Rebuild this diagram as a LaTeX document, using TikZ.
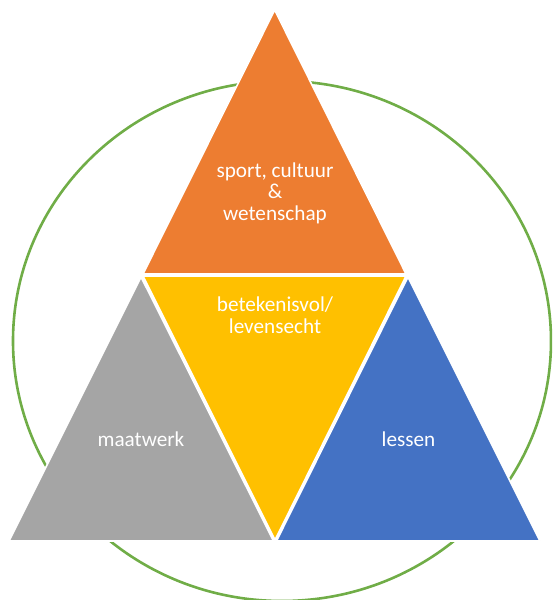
\documentclass[tikz,border=0pt]{standalone}
\usepackage{fontspec}
\setmainfont{Carlito}
\definecolor{cgreen}{HTML}{70AD47}
\definecolor{corange}{HTML}{ED7D31}
\definecolor{cgray}{HTML}{A5A5A5}
\definecolor{cyellow}{HTML}{FFC000}
\definecolor{cblue}{HTML}{4472C4}
\begin{document}
\begin{tikzpicture}[x=1pt,y=-1pt,
  tri/.style={draw=white,line width=1.6pt,line join=miter},
  lbl/.style={text=white,align=center,font=\fontsize{21.2}{21.5}\selectfont,inner sep=0pt}]
\useasboundingbox (0,0) rectangle (552,600);
\clip (0,0) rectangle (552,600);
\draw[cgreen,line width=2.6pt] (282,341) ellipse [x radius=269, y radius=260];
\filldraw[tri,fill=corange] (274.7,10) -- (406,274) -- (143,274) -- cycle;
\filldraw[tri,fill=cgray] (141,277) -- (273.5,541) -- (9,541) -- cycle;
\filldraw[tri,fill=cblue] (408,277) -- (540,541) -- (276.5,541) -- cycle;
\filldraw[tri,fill=cyellow] (143,276) -- (406,276) -- (275,540) -- cycle;
\node[lbl] (top) at (275,193) {sport, cultuur\\\&\\wetenschap};
\node[lbl] (mid) at (275,315) {betekenisvol/\\levensecht};
\node[lbl] (left) at (141,439) {maatwerk};
\node[lbl] (right) at (408.5,439) {lessen};
\end{tikzpicture}
\end{document}
